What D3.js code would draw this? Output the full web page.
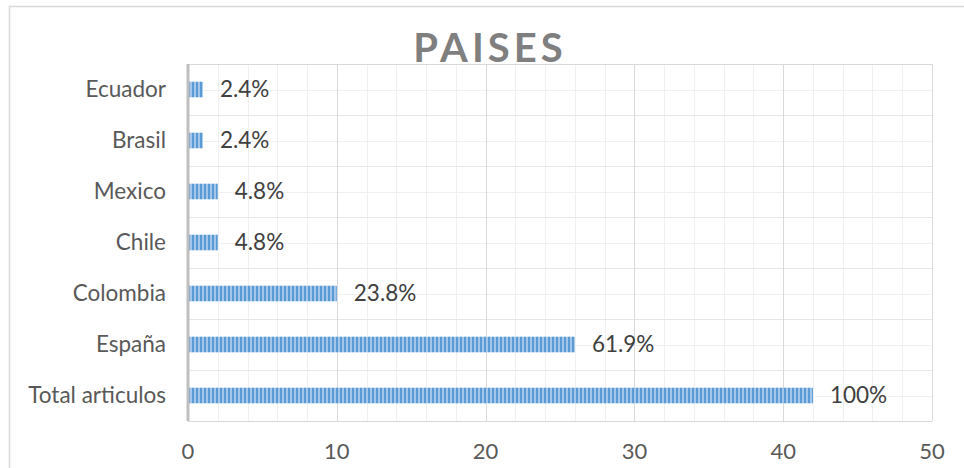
<!DOCTYPE html>
<html><head><meta charset="utf-8">
<script src="https://cdn.jsdelivr.net/npm/d3@7"></script>
<style>body{margin:0;background:#fff}svg{display:block}</style>
</head><body>
<svg id="c" width="964" height="468"></svg>
<script>
const categories = ["Total articulos","España","Colombia","Chile","Mexico","Brasil","Ecuador"];
const values = [42, 26, 10, 2, 2, 1, 1];
const labels = ["100%","61.9%","23.8%","4.8%","4.8%","2.4%","2.4%"];
const xTicks = [0,10,20,30,40,50];
const title = "PAISES";

const svg = d3.select("#c");
const font = "Lato, 'Open Sans', sans-serif";
const L=188, R=932, T=64, B=421;

// outer chart border (cropped at right/bottom)
svg.append("rect").attr("x",9.5).attr("y",6.5).attr("width",1000).attr("height",600)
  .attr("fill","none").attr("stroke","#d9d9d9").attr("stroke-width",1.5);

const x = d3.scaleLinear().domain([0,50]).range([L,R]);
const y = d3.scaleBand().domain(categories.slice().reverse()).range([T,B]).padding(0);
const step = y.step();
const barH = step*0.306;

const defs = svg.append("defs");
const pat = defs.append("pattern").attr("id","stripes").attr("patternUnits","userSpaceOnUse")
  .attr("width",4).attr("height",4);
pat.append("rect").attr("width",4).attr("height",4).attr("fill","#a3c6ea");
pat.append("rect").attr("width",2).attr("height",4).attr("fill","#5b9bd5");

// minor vertical gridlines
const g = svg.append("g");
d3.range(0,51,2).forEach(v=>{
  if (v%10!==0) g.append("line").attr("x1",Math.round(x(v))+0.5).attr("x2",Math.round(x(v))+0.5)
    .attr("y1",T).attr("y2",B).attr("stroke","#f0f0f0").attr("stroke-width",1);
});
// minor horizontal gridlines at band centers
categories.forEach(c=>{
  const yy=Math.round(y(c)+step/2)+0.5;
  g.append("line").attr("x1",L).attr("x2",R).attr("y1",yy).attr("y2",yy).attr("stroke","#f0f0f0");
});
// horizontal gridlines at band boundaries
d3.range(categories.length+1).forEach(i=>{
  const yy=Math.round(T+i*step)+0.5;
  const edge = (i===0||i===categories.length);
  g.append("line").attr("x1",L).attr("x2",R).attr("y1",yy).attr("y2",yy)
    .attr("stroke",edge?"#d9d9d9":"#e6e6e6");
});
// major vertical gridlines
xTicks.forEach(v=>{
  if (v>0) g.append("line").attr("x1",Math.round(x(v))+0.5).attr("x2",Math.round(x(v))+0.5)
    .attr("y1",T).attr("y2",B).attr("stroke","#d9d9d9");
});

// bars
svg.append("g").selectAll("rect").data(categories).join("rect")
  .attr("x",x(0)).attr("y",(c)=>y(c)+(step-barH)/2)
  .attr("width",(c,i)=>x(values[i])-x(0)).attr("height",barH)
  .attr("fill","url(#stripes)");

// axis line
svg.append("line").attr("x1",L).attr("x2",L).attr("y1",T).attr("y2",B)
  .attr("stroke","#bfbfbf").attr("stroke-width",3);

// data labels
svg.append("g").selectAll("text").data(categories).join("text")
  .attr("x",(c,i)=>x(values[i])+17).attr("y",c=>y(c)+step/2).attr("dy","0.35em")
  .attr("font-family",font).attr("font-size",22.5).attr("fill","#404040")
  .text((c,i)=>labels[i]);

// category labels
svg.append("g").selectAll("text").data(categories).join("text")
  .attr("x",166).attr("y",c=>y(c)+step/2).attr("dy","0.35em").attr("text-anchor","end")
  .attr("font-family",font).attr("font-size",22.5).attr("fill","#595959")
  .text(c=>c);

// x tick labels
svg.append("g").selectAll("text").data(xTicks).join("text")
  .attr("x",d=>x(d)).attr("y",459).attr("text-anchor","middle")
  .attr("font-family",font).attr("font-size",22).attr("fill","#595959")
  .text(d=>d);

// title
svg.append("text").attr("x",490).attr("y",62).attr("text-anchor","middle")
  .attr("font-family",font).attr("font-weight","bold").attr("font-size",40)
  .attr("letter-spacing",4).attr("fill","#7f7f7f").text(title);
</script>
</body></html>
